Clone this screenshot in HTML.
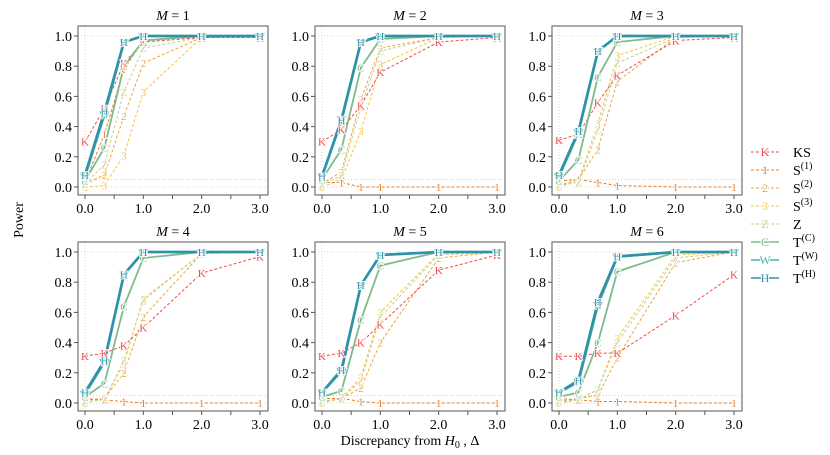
<!DOCTYPE html>
<html><head><meta charset="utf-8"><style>
html,body{margin:0;padding:0;background:#fff;}
svg{display:block;font-family:"Liberation Serif",serif;}
</style></head><body>
<svg id="chart" width="830" height="455" viewBox="0 0 830 455" xmlns="http://www.w3.org/2000/svg"></svg>
<script>
const xVals = [0, 1/3, 2/3, 1, 2, 3];
const panelTitles = ["1","2","3","4","5","6"];
const seriesKeys = ["S3","S2","S1","Z","K","C","W","H"];
const yTicks = [0, 0.2, 0.4, 0.6, 0.8, 1.0];
const yTickLabels = ["0.0","0.2","0.4","0.6","0.8","1.0"];
const xTicks = [0, 0.5, 1, 1.5, 2, 2.5, 3];
const xTickLabels = ["0.0","","1.0","","2.0","","3.0"];
const dataK  = [[0.30,0.52,0.82,0.96,0.99,0.99],[0.30,0.38,0.54,0.76,0.96,0.99],[0.31,0.35,0.56,0.74,0.97,0.99],[0.31,0.33,0.38,0.50,0.86,0.97],[0.31,0.33,0.40,0.52,0.88,0.98],[0.31,0.31,0.33,0.33,0.58,0.85]];
const dataS1 = [[0.03,0.35,0.78,0.97,1,1],[0.03,0.03,0.00,0.00,0.00,0.00],[0.04,0.05,0.03,0.01,0.00,0.00],[0.03,0.02,0.01,0.00,0.00,0.00],[0.03,0.03,0.01,0.00,0.00,0.00],[0.03,0.02,0.01,0.01,0.00,0.00]];
const dataS2 = [[0.02,0.08,0.47,0.82,0.99,1],[0.02,0.10,0.58,0.92,0.99,1],[0.01,0.05,0.25,0.70,0.99,1],[0.02,0.03,0.20,0.57,0.99,1],[0.01,0.03,0.10,0.40,0.96,1],[0.01,0.03,0.05,0.30,0.93,1]];
const dataS3 = [[0.00,0.01,0.21,0.63,0.99,1],[0.00,0.05,0.37,0.81,0.99,1],[0.00,0.04,0.42,0.87,1.00,1],[0.00,0.03,0.26,0.69,0.99,1],[0.00,0.03,0.17,0.60,0.99,1],[0.00,0.02,0.09,0.43,0.98,1]];
const dataZ  = [[0.02,0.15,0.63,0.92,0.99,1],[0.01,0.08,0.53,0.90,0.99,1],[0.01,0.03,0.38,0.82,0.99,1],[0.01,0.02,0.28,0.68,0.99,1],[0.01,0.03,0.15,0.57,0.98,1],[0.01,0.02,0.09,0.40,0.96,1]];
const dataC  = [[0.04,0.26,0.80,0.97,1,1],[0.05,0.25,0.79,0.98,1,1],[0.04,0.18,0.73,0.96,1,1],[0.04,0.13,0.64,0.96,1,1],[0.04,0.08,0.55,0.91,1,1],[0.04,0.07,0.40,0.87,1,1]];
const dataW  = [[0.07,0.48,0.96,1,1,1],[0.07,0.45,0.96,1,1,1],[0.07,0.36,0.90,1,1,1],[0.06,0.27,0.85,1,1,1],[0.07,0.21,0.78,0.98,1,1],[0.07,0.14,0.65,0.97,1,1]];
const dataH  = [[0.08,0.50,0.96,1,1,1],[0.07,0.44,0.96,1,1,1],[0.08,0.37,0.90,1,1,1],[0.07,0.28,0.85,1,1,1],[0.07,0.22,0.78,0.98,1,1],[0.07,0.15,0.67,0.97,1,1]];

const NS = "http://www.w3.org/2000/svg";
const svg = document.getElementById("chart");
const style = {
  K:{c:"#f24a4a",w:1,d:"3,2",m:"K",data:dataK,lab:"KS",sup:""},
  S1:{c:"#e5802c",w:1,d:"3,2",m:"1",data:dataS1,lab:"S",sup:"(1)"},
  S2:{c:"#eea43a",w:1,d:"3,2",m:"2",data:dataS2,lab:"S",sup:"(2)"},
  S3:{c:"#f3c540",w:1,d:"3,2",m:"3",data:dataS3,lab:"S",sup:"(3)"},
  Z:{c:"#c6cf8e",w:1,d:"3,2",m:"Z",data:dataZ,lab:"Z",sup:""},
  C:{c:"#7dbb8c",w:1.8,d:"",m:"C",data:dataC,lab:"T",sup:"(C)"},
  W:{c:"#4bb2ad",w:2.6,d:"",m:"W",data:dataW,lab:"T",sup:"(W)"},
  H:{c:"#2f92a6",w:2.6,d:"",m:"H",data:dataH,lab:"T",sup:"(H)"}
};
function el(tag, attrs, parent){const e=document.createElementNS(NS,tag);for(const k in attrs)e.setAttribute(k,attrs[k]);(parent||svg).appendChild(e);return e;}

const colLeft=[78,315,552], rowTop=[26,242], boxW=190, boxH=169;
for(let p=0;p<6;p++){
  const bx=colLeft[p%3], by=rowTop[Math.floor(p/3)];
  const xs=v=>bx+7+v*(175/3);
  const ys=v=>by+161-v*151;
  const g=el("g",{});
  
  
  [0,0.05,1].forEach(v=>el("line",{x1:bx,x2:bx+boxW,y1:ys(v),y2:ys(v),stroke:"#ccc","stroke-width":0.8,"stroke-dasharray":"1,2"},g));
  el("line",{x1:xs(0),x2:xs(0),y1:by,y2:by+boxH,stroke:"#ccc","stroke-width":0.8,"stroke-dasharray":"1,2"},g);
  const box=el("rect",{x:bx,y:by,width:boxW,height:boxH,fill:"none",stroke:"#555","stroke-width":1},g);
  
  
  const t=el("text",{x:bx+boxW/2,y:by-6,"text-anchor":"middle","font-size":"14"},g);
  
  
  t.innerHTML='<tspan font-style="italic">M</tspan> = '+panelTitles[p];
  yTicks.forEach((v,i)=>{
    el("line",{x1:bx-4,x2:bx,y1:ys(v),y2:ys(v),stroke:"#555"},g);
    const tl=el("text",{x:bx-6,y:ys(v)+5,"text-anchor":"end","font-size":"14"},g);
    
    
    tl.textContent=yTickLabels[i];
  });
  xTicks.forEach((v,i)=>{
    el("line",{x1:xs(v),x2:xs(v),y1:by+boxH,y2:by+boxH+4,stroke:"#555"},g);
    if(xTickLabels[i]){
      const tl=el("text",{x:xs(v),y:by+boxH+18,"text-anchor":"middle","font-size":"14"},g);
      
      
      tl.textContent=xTickLabels[i];
    }
  });
  seriesKeys.forEach(k=>{
    const s=style[k], d=s.data[p];
    const pts=d.map((v,i)=>xs(xVals[i])+","+ys(v)).join(" ");
    const pl=el("polyline",{points:pts,fill:"none",stroke:s.c,"stroke-width":s.w,"stroke-dasharray":s.d},g);
    
    
  });
  seriesKeys.forEach(k=>{
    const s=style[k], d=s.data[p];
    d.forEach((v,i)=>{
      const m=el("text",{x:xs(xVals[i]),y:ys(v)+4,"text-anchor":"middle","font-size":"11",fill:s.c,stroke:"#fff","stroke-width":1.5,"paint-order":"stroke"},g);
      
      
      m.textContent=s.m;
    });
  });
}
const yl=el("text",{x:0,y:0,transform:"translate(23,220) rotate(-90)","text-anchor":"middle","font-size":"14"});


yl.textContent="Power";
const xl=el("text",{x:410,y:445,"text-anchor":"middle","font-size":"14"});


xl.innerHTML='Discrepancy from <tspan font-style="italic">H</tspan><tspan font-size="10" dy="3">0</tspan><tspan dy="-3"> , Δ</tspan>';
const legOrder=["K","S1","S2","S3","Z","C","W","H"];
legOrder.forEach((k,i)=>{
  const s=style[k], y=152+i*18;
  const g=el("g",{});
  
  
  el("line",{x1:751,x2:779,y1:y,y2:y,stroke:s.c,"stroke-width":Math.min(s.w,1.5),"stroke-dasharray":s.d},g);
  el("text",{x:765,y:y+4,"text-anchor":"middle","font-size":"12",fill:s.c,stroke:"#fff","stroke-width":2,"paint-order":"stroke"},g).textContent=s.m;
  const t=el("text",{x:793,y:y+5,"font-size":"14"},g);
  t.innerHTML=s.lab+(s.sup?'<tspan font-size="10" dy="-6">'+s.sup+'</tspan>':'');
});
</script>
</body></html>
